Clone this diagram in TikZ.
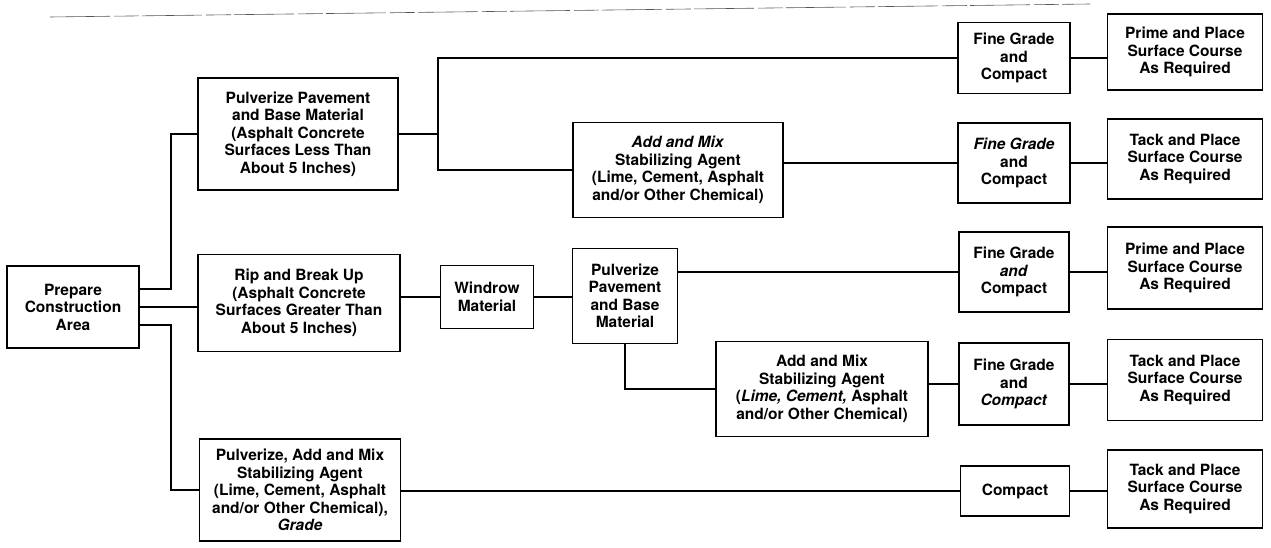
\documentclass[tikz,border=0pt]{standalone}
\usepackage{fontspec}
\setmainfont{TeX Gyre Heros}
\usetikzlibrary{calc}

\begin{document}
\begin{tikzpicture}[x=1pt, y=-1pt,
    box/.style={draw=borderColour, line width=1.4pt, align=center, inner sep=2pt,
        font=\bfseries\fontsize{15.5}{17.5}\selectfont},
    link/.style={draw=borderColour, line width=1.4pt}]
    % Define colours
    \definecolor{borderColour}{HTML}{000000}
    \definecolor{ruleColour}{HTML}{555555}

    % Fix the picture size
    \useasboundingbox (0,0) rectangle (1271,548);

    % Draw header rule
    \draw[ruleColour, line width=0.6pt, dash pattern=on 60pt off 4pt on 25pt off 3pt] (50,17) -- (1090,4);

    % Define junction columns
    \def\colA{171}
    \def\colB{438}

    % Draw first column
    \node[box, minimum width=132pt, minimum height=82pt] (prep) at (73,307) {Prepare\\Construction\\Area};

    % Draw second column
    \node[box, minimum width=200pt, minimum height=112pt] (pulvA) at (298,134) {Pulverize Pavement\\and Base Material\\(Asphalt Concrete\\Surfaces Less Than\\About 5 Inches)};
    \node[box, minimum width=202pt, minimum height=97pt] (rip) at (299,303) {Rip and Break Up\\(Asphalt Concrete\\Surfaces Greater Than\\About 5 Inches)};
    \node[box, minimum width=201pt, minimum height=102pt] (pulvMix) at (300,490) {Pulverize, Add and Mix\\Stabilizing Agent\\(Lime, Cement, Asphalt\\and/or Other Chemical),\\\textit{Grade}};

    % Draw middle steps
    \node[box, minimum width=210pt, minimum height=95pt] (addA) at (678,170) {\textit{Add and Mix}\\Stabilizing Agent\\(Lime, Cement, Asphalt\\and/or Other Chemical)};
    \node[box, minimum width=93pt, minimum height=63pt] (windrow) at (487,297) {Windrow\\Material};
    \node[box, minimum width=105pt, minimum height=95pt] (pulvB) at (625,296) {Pulverize\\Pavement\\and Base\\Material};
    \node[box, minimum width=212pt, minimum height=95pt] (addB) at (822,389) {Add and Mix\\Stabilizing Agent\\(\textit{Lime, Cement,} Asphalt\\and/or Other Chemical)};

    % Draw grading steps
    \node[box, minimum width=112pt, minimum height=71pt] (fineA) at (1014,58) {Fine Grade\\and\\Compact};
    \node[box, minimum width=112pt, minimum height=80pt] (fineB) at (1014,163) {\textit{Fine Grade}\\and\\Compact};
    \node[box, minimum width=110pt, minimum height=80pt] (fineC) at (1014,272) {Fine Grade\\\textit{and}\\Compact};
    \node[box, minimum width=110pt, minimum height=82pt] (fineD) at (1014,384) {Fine Grade\\and\\\textit{Compact}};
    \node[box, minimum width=109pt, minimum height=50pt] (compact) at (1015,491) {Compact};

    % Draw surface courses
    \node[box, minimum width=155pt, minimum height=76pt] (primeA) at (1185,52) {Prime and Place\\Surface Course\\As Required};
    \node[box, minimum width=155pt, minimum height=80pt] (tackA) at (1185,159) {Tack and Place\\Surface Course\\As Required};
    \node[box, minimum width=155pt, minimum height=82pt] (primeB) at (1185,268) {Prime and Place\\Surface Course\\As Required};
    \node[box, minimum width=155pt, minimum height=81pt] (tackB) at (1185,380) {Tack and Place\\Surface Course\\As Required};
    \node[box, minimum width=155pt, minimum height=78pt] (tackC) at (1185,489) {Tack and Place\\Surface Course\\As Required};

    % Define junction points
    \coordinate (jA) at (\colA,307);
    \coordinate (jB) at (\colB,134);

    % Draw links from first column
    \draw[link] ([yshift=18pt]prep.east) -| (jA |- pulvA) -- (pulvA.west);
    \draw[link] (prep.east) -- (prep.east -| rip.west);
    \draw[link] ([yshift=-18pt]prep.east) -| (jA |- pulvMix) -- (pulvMix.west);

    % Draw links of first row
    \draw[link] (pulvA.east) -- (jB);
    \draw[link] (fineA.west) -| (jB) |- (addA.west);
    \draw[link] (fineB.west) -- (fineB.west -| addA.east);

    % Draw links of second row
    \draw[link] (rip.east |- windrow) -- (windrow.west);
    \draw[link] (windrow.east) -- (windrow.east -| pulvB.west);
    \draw[link] (fineC.west) -- (fineC.west -| pulvB.east);
    \draw[link] (pulvB.south) |- (addB.west);
    \draw[link] (fineD.west) -- (fineD.west -| addB.east);

    % Draw link of third row
    \draw[link] (compact.west) -- (compact.west -| pulvMix.east);

    % Draw links to surface courses
    \draw[link] (fineA.east) -- (fineA.east -| primeA.west);
    \draw[link] (fineB.east) -- (fineB.east -| tackA.west);
    \draw[link] (fineC.east) -- (fineC.east -| primeB.west);
    \draw[link] (fineD.east) -- (fineD.east -| tackB.west);
    \draw[link] (compact.east) -- (compact.east -| tackC.west);

\end{tikzpicture}
\end{document}
